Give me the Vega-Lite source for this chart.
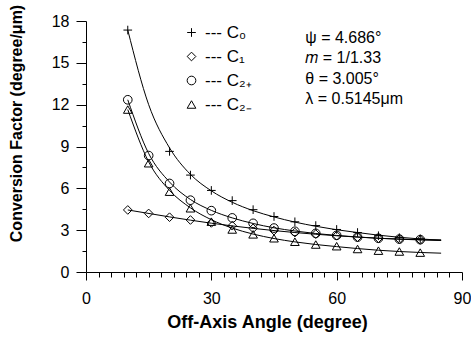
{
  "$schema": "https://vega.github.io/schema/vega-lite/v6.json",
  "width": 376,
  "height": 251,
  "autosize": {"type": "none"},
  "padding": {"left": 86, "top": 21, "right": 9, "bottom": 68},
  "background": "white",
  "config": {
    "view": {"stroke": null},
    "font": "Liberation Sans",
    "axis": {
      "grid": false,
      "domainColor": "black",
      "tickColor": "black",
      "labelColor": "black",
      "titleColor": "black",
      "labelFont": "Liberation Sans",
      "labelFontSize": 16,
      "titleFont": "Liberation Sans",
      "titleFontSize": 16,
      "titleFontWeight": "bold",
      "domainWidth": 1,
      "tickWidth": 1,
      "labelOverlap": false,
      "labelFlush": false,
      "labelBound": false
    }
  },
  "datasets": {
    "markers": [
      {"series": "C₀", "angle": 10, "cf": 17.35},
      {"series": "C₀", "angle": 20, "cf": 8.65},
      {"series": "C₀", "angle": 25, "cf": 6.95},
      {"series": "C₀", "angle": 30, "cf": 5.85},
      {"series": "C₀", "angle": 35, "cf": 5.12},
      {"series": "C₀", "angle": 40, "cf": 4.47},
      {"series": "C₀", "angle": 45, "cf": 3.98},
      {"series": "C₀", "angle": 50, "cf": 3.6},
      {"series": "C₀", "angle": 55, "cf": 3.33},
      {"series": "C₀", "angle": 60, "cf": 3.05},
      {"series": "C₀", "angle": 65, "cf": 2.83},
      {"series": "C₀", "angle": 70, "cf": 2.6},
      {"series": "C₀", "angle": 75, "cf": 2.46},
      {"series": "C₀", "angle": 80, "cf": 2.38},
      {"series": "C₁", "angle": 10, "cf": 4.45},
      {"series": "C₁", "angle": 15, "cf": 4.2},
      {"series": "C₁", "angle": 20, "cf": 3.93},
      {"series": "C₁", "angle": 25, "cf": 3.73},
      {"series": "C₁", "angle": 30, "cf": 3.52},
      {"series": "C₁", "angle": 35, "cf": 3.32},
      {"series": "C₁", "angle": 40, "cf": 3.13},
      {"series": "C₁", "angle": 45, "cf": 2.97},
      {"series": "C₁", "angle": 50, "cf": 2.83},
      {"series": "C₁", "angle": 55, "cf": 2.72},
      {"series": "C₁", "angle": 60, "cf": 2.6},
      {"series": "C₁", "angle": 65, "cf": 2.5},
      {"series": "C₁", "angle": 70, "cf": 2.42},
      {"series": "C₁", "angle": 75, "cf": 2.36},
      {"series": "C₁", "angle": 80, "cf": 2.3},
      {"series": "C₂₊", "angle": 10, "cf": 12.35},
      {"series": "C₂₊", "angle": 15, "cf": 8.35},
      {"series": "C₂₊", "angle": 20, "cf": 6.35},
      {"series": "C₂₊", "angle": 25, "cf": 5.15},
      {"series": "C₂₊", "angle": 30, "cf": 4.4},
      {"series": "C₂₊", "angle": 35, "cf": 3.88},
      {"series": "C₂₊", "angle": 40, "cf": 3.49},
      {"series": "C₂₊", "angle": 45, "cf": 3.15},
      {"series": "C₂₊", "angle": 50, "cf": 2.92},
      {"series": "C₂₊", "angle": 55, "cf": 2.77},
      {"series": "C₂₊", "angle": 60, "cf": 2.63},
      {"series": "C₂₊", "angle": 65, "cf": 2.5},
      {"series": "C₂₊", "angle": 70, "cf": 2.42},
      {"series": "C₂₊", "angle": 75, "cf": 2.36},
      {"series": "C₂₊", "angle": 80, "cf": 2.32},
      {"series": "C₂₋", "angle": 10, "cf": 11.65},
      {"series": "C₂₋", "angle": 15, "cf": 7.8},
      {"series": "C₂₋", "angle": 20, "cf": 5.76},
      {"series": "C₂₋", "angle": 25, "cf": 4.57},
      {"series": "C₂₋", "angle": 30, "cf": 3.61},
      {"series": "C₂₋", "angle": 35, "cf": 3.05},
      {"series": "C₂₋", "angle": 40, "cf": 2.7},
      {"series": "C₂₋", "angle": 45, "cf": 2.42},
      {"series": "C₂₋", "angle": 50, "cf": 2.17},
      {"series": "C₂₋", "angle": 55, "cf": 1.97},
      {"series": "C₂₋", "angle": 60, "cf": 1.85},
      {"series": "C₂₋", "angle": 65, "cf": 1.65},
      {"series": "C₂₋", "angle": 70, "cf": 1.53},
      {"series": "C₂₋", "angle": 75, "cf": 1.47},
      {"series": "C₂₋", "angle": 80, "cf": 1.39}
    ],
    "curves": [
      {"series": "C₀", "angle": 10, "cf": 17.35},
      {"series": "C₀", "angle": 15, "cf": 12.0},
      {"series": "C₀", "angle": 20, "cf": 8.9},
      {"series": "C₀", "angle": 25, "cf": 7.0},
      {"series": "C₀", "angle": 30, "cf": 5.82},
      {"series": "C₀", "angle": 35, "cf": 5.0},
      {"series": "C₀", "angle": 40, "cf": 4.4},
      {"series": "C₀", "angle": 45, "cf": 3.95},
      {"series": "C₀", "angle": 50, "cf": 3.58},
      {"series": "C₀", "angle": 55, "cf": 3.28},
      {"series": "C₀", "angle": 60, "cf": 3.03},
      {"series": "C₀", "angle": 65, "cf": 2.83},
      {"series": "C₀", "angle": 70, "cf": 2.64},
      {"series": "C₀", "angle": 75, "cf": 2.49},
      {"series": "C₀", "angle": 80, "cf": 2.37},
      {"series": "C₀", "angle": 85, "cf": 2.28},
      {"series": "C₁", "angle": 10, "cf": 4.45},
      {"series": "C₁", "angle": 20, "cf": 3.95},
      {"series": "C₁", "angle": 30, "cf": 3.5},
      {"series": "C₁", "angle": 40, "cf": 3.13},
      {"series": "C₁", "angle": 50, "cf": 2.83},
      {"series": "C₁", "angle": 60, "cf": 2.6},
      {"series": "C₁", "angle": 70, "cf": 2.42},
      {"series": "C₁", "angle": 80, "cf": 2.3},
      {"series": "C₁", "angle": 85, "cf": 2.26},
      {"series": "C₂₊", "angle": 10, "cf": 12.35},
      {"series": "C₂₊", "angle": 15, "cf": 8.5},
      {"series": "C₂₊", "angle": 20, "cf": 6.45},
      {"series": "C₂₊", "angle": 25, "cf": 5.2},
      {"series": "C₂₊", "angle": 30, "cf": 4.42},
      {"series": "C₂₊", "angle": 35, "cf": 3.88},
      {"series": "C₂₊", "angle": 40, "cf": 3.48},
      {"series": "C₂₊", "angle": 45, "cf": 3.17},
      {"series": "C₂₊", "angle": 50, "cf": 2.94},
      {"series": "C₂₊", "angle": 55, "cf": 2.76},
      {"series": "C₂₊", "angle": 60, "cf": 2.62},
      {"series": "C₂₊", "angle": 65, "cf": 2.51},
      {"series": "C₂₊", "angle": 70, "cf": 2.42},
      {"series": "C₂₊", "angle": 75, "cf": 2.36},
      {"series": "C₂₊", "angle": 80, "cf": 2.32},
      {"series": "C₂₊", "angle": 85, "cf": 2.3},
      {"series": "C₂₋", "angle": 10, "cf": 11.65},
      {"series": "C₂₋", "angle": 15, "cf": 7.9},
      {"series": "C₂₋", "angle": 20, "cf": 5.85},
      {"series": "C₂₋", "angle": 25, "cf": 4.6},
      {"series": "C₂₋", "angle": 30, "cf": 3.75},
      {"series": "C₂₋", "angle": 35, "cf": 3.15},
      {"series": "C₂₋", "angle": 40, "cf": 2.72},
      {"series": "C₂₋", "angle": 45, "cf": 2.4},
      {"series": "C₂₋", "angle": 50, "cf": 2.16},
      {"series": "C₂₋", "angle": 55, "cf": 1.97},
      {"series": "C₂₋", "angle": 60, "cf": 1.82},
      {"series": "C₂₋", "angle": 65, "cf": 1.68},
      {"series": "C₂₋", "angle": 70, "cf": 1.56},
      {"series": "C₂₋", "angle": 75, "cf": 1.47},
      {"series": "C₂₋", "angle": 80, "cf": 1.4},
      {"series": "C₂₋", "angle": 85, "cf": 1.35}
    ],
    "notes": [
      {"note": "parameters"}
    ]
  },
  "layer": [
    {
      "data": {"name": "curves"},
      "mark": {"type": "line", "interpolate": "monotone", "color": "black", "strokeWidth": 1},
      "encoding": {
        "x": {
          "field": "angle",
          "type": "quantitative",
          "scale": {"domain": [0, 90], "nice": false, "zero": false},
          "axis": {
            "title": "Off-Axis Angle (degree)",
            "titleFontSize": 18,
            "values": [0, 3, 6, 9, 12, 15, 18, 21, 24, 27, 30, 33, 36, 39, 42, 45, 48, 51, 54, 57, 60, 63, 66, 69, 72, 75, 78, 81, 84, 87, 90],
            "labelExpr": "datum.value % 30 === 0 ? datum.label : ''",
            "tickSize": {"condition": {"test": "datum.value % 30 === 0", "value": 8}, "value": 5},
            "labelPadding": 10,
            "labelOverlap": false,
            "labelFlush": false,
            "titleX": 181,
            "titleY": 41,
            "titleAlign": "center",
            "titleBaseline": "top"
          }
        },
        "y": {
          "field": "cf",
          "type": "quantitative",
          "scale": {"domain": [0, 18], "nice": false},
          "axis": {
            "title": "Conversion Factor (degree/μm)",
            "values": [0, 1.5, 3, 4.5, 6, 7.5, 9, 10.5, 12, 13.5, 15, 16.5, 18],
            "labelExpr": "datum.value % 3 === 0 ? datum.label : ''",
            "tickSize": {"condition": {"test": "datum.value % 3 === 0", "value": 10}, "value": 4},
            "labelPadding": 7,
            "labelOverlap": false,
            "labelFlush": false,
            "titleX": -70,
            "titleY": 102,
            "titleAngle": -90,
            "titleAlign": "center",
            "titleBaseline": "middle"
          }
        },
        "detail": {"field": "series"}
      }
    },
    {
      "data": {"name": "markers"},
      "mark": {"type": "point", "filled": false, "stroke": "black", "strokeWidth": 1, "size": 75, "opacity": 1},
      "encoding": {
        "x": {
          "field": "angle",
          "type": "quantitative",
          "axis": {
            "title": "Off-Axis Angle (degree)",
            "titleFontSize": 18,
            "values": [0, 3, 6, 9, 12, 15, 18, 21, 24, 27, 30, 33, 36, 39, 42, 45, 48, 51, 54, 57, 60, 63, 66, 69, 72, 75, 78, 81, 84, 87, 90],
            "labelExpr": "datum.value % 30 === 0 ? datum.label : ''",
            "tickSize": {"condition": {"test": "datum.value % 30 === 0", "value": 8}, "value": 5},
            "labelPadding": 10,
            "labelOverlap": false,
            "labelFlush": false,
            "titleX": 181,
            "titleY": 41,
            "titleAlign": "center",
            "titleBaseline": "top"
          }
        },
        "y": {
          "field": "cf",
          "type": "quantitative",
          "axis": {
            "title": "Conversion Factor (degree/μm)",
            "values": [0, 1.5, 3, 4.5, 6, 7.5, 9, 10.5, 12, 13.5, 15, 16.5, 18],
            "labelExpr": "datum.value % 3 === 0 ? datum.label : ''",
            "tickSize": {"condition": {"test": "datum.value % 3 === 0", "value": 10}, "value": 4},
            "labelPadding": 7,
            "labelOverlap": false,
            "labelFlush": false,
            "titleX": -70,
            "titleY": 102,
            "titleAngle": -90,
            "titleAlign": "center",
            "titleBaseline": "middle"
          }
        },
        "shape": {
          "field": "series",
          "type": "nominal",
          "scale": {
            "domain": ["C₀", "C₁", "C₂₊", "C₂₋"],
            "range": ["M-1,0H1M0,-1V1", "diamond", "circle", "triangle-up"]
          },
          "legend": {
            "title": null,
            "orient": "none",
            "legendX": 97,
            "legendY": 3,
            "labelExpr": "'--- ' + datum.label",
            "labelFont": "Liberation Sans",
            "labelFontSize": 17,
            "labelColor": "black",
            "symbolSize": 75,
            "symbolStrokeColor": "black",
            "symbolFillColor": "transparent",
            "symbolStrokeWidth": 1,
            "rowPadding": 6,
            "labelOffset": 5,
            "padding": 0
          }
        }
      }
    },
    {
      "data": {"name": "notes"},
      "mark": {
        "type": "text",
        "align": "left",
        "baseline": "top",
        "fontSize": 16,
        "lineHeight": 20.3,
        "font": "Liberation Sans",
        "color": "black"
      },
      "encoding": {
        "x": {
          "datum": 52.5,
          "type": "quantitative",
          "axis": {
            "title": "Off-Axis Angle (degree)",
            "titleFontSize": 18,
            "values": [0, 3, 6, 9, 12, 15, 18, 21, 24, 27, 30, 33, 36, 39, 42, 45, 48, 51, 54, 57, 60, 63, 66, 69, 72, 75, 78, 81, 84, 87, 90],
            "labelExpr": "datum.value % 30 === 0 ? datum.label : ''",
            "tickSize": {"condition": {"test": "datum.value % 30 === 0", "value": 8}, "value": 5},
            "labelPadding": 10,
            "labelOverlap": false,
            "labelFlush": false,
            "titleX": 181,
            "titleY": 41,
            "titleAlign": "center",
            "titleBaseline": "top"
          }
        },
        "y": {
          "datum": 17.35,
          "type": "quantitative",
          "axis": {
            "title": "Conversion Factor (degree/μm)",
            "values": [0, 1.5, 3, 4.5, 6, 7.5, 9, 10.5, 12, 13.5, 15, 16.5, 18],
            "labelExpr": "datum.value % 3 === 0 ? datum.label : ''",
            "tickSize": {"condition": {"test": "datum.value % 3 === 0", "value": 10}, "value": 4},
            "labelPadding": 7,
            "labelOverlap": false,
            "labelFlush": false,
            "titleX": -70,
            "titleY": 102,
            "titleAngle": -90,
            "titleAlign": "center",
            "titleBaseline": "middle"
          }
        },
        "text": {"value": ["ψ = 4.686°", "𝑚 = 1/1.33", "θ = 3.005°", "λ = 0.5145μm"]}
      }
    }
  ]
}
